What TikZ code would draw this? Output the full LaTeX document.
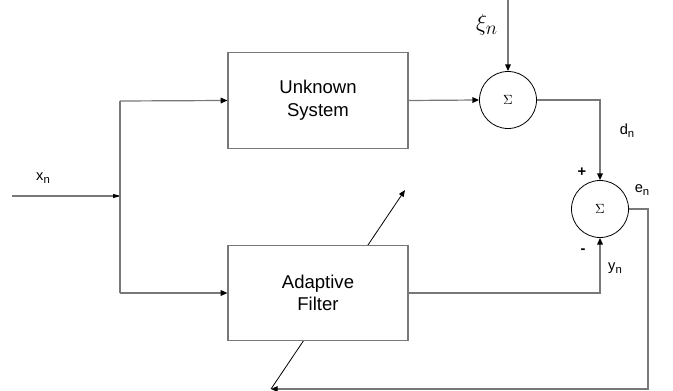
\documentclass[tikz,border=0pt]{standalone}
\usepackage{fontspec}
\setmainfont{Liberation Sans}
\usetikzlibrary{arrows.meta, calc}
\definecolor{wiregray}{RGB}{120,120,120}
\newcommand{\subn}{\raisebox{-2.2pt}{\fontsize{8.5}{9}\selectfont n}}
\tikzset{
  blk/.style     = {rectangle, draw=wiregray, fill=white, line width=0.9pt, minimum width=135pt, minimum height=71.5pt, align=center, font=\fontsize{13.9}{17}\selectfont},
  sumnode/.style = {circle, draw=black, fill=white, line width=0.6pt, minimum size=42.75pt, inner sep=0pt, font=\fontsize{10}{10}\selectfont},
  wire/.style    = {wiregray, line width=0.9pt},
  sig/.style     = {wire, -{Triangle[length=5pt, width=4.2pt, color=black]}},
  adj/.style     = {black, line width=0.6pt, -{Triangle[length=5pt, width=4pt]}},
  lbl/.style     = {inner sep=0pt, font=\fontsize{11}{12}\selectfont},
}
\begin{document}
\begin{tikzpicture}[x=0.75pt, y=-0.75pt]
\useasboundingbox (0,0) rectangle (673,391);

% free ends and corners
\coordinate (xin) at (12,196);
\coordinate (split) at (120,196);
\coordinate (splittop) at (120,101);
\coordinate (splitbot) at (120,293);
\coordinate (xitop) at (508,0);
\coordinate (fbcorner) at (648,389);
\coordinate (fbend) at (271,389);
\coordinate (adjtip) at (405,190);

% adaptation arrow (behind the filter box)
\draw[adj] (fbend) -- (adjtip);

% blocks
\node[blk] (unk) at (318,100.5) {Unknown\\System};
\node[blk] (adf) at (318,293) {Adaptive\\Filter};
\node[sumnode] (sum1) at (508,100) {$\Sigma$};
\node[sumnode] (sum2) at (600,209) {$\Sigma$};

% input and split
\draw[wire] (xin) -- (split);
\fill[black] (split) -- ++(-7,-2.2) -- ++(0,4.4) -- cycle;
\draw[wire] (splittop) -- (splitbot);
\draw[sig] (splittop) -- (unk.west);
\draw[sig] (splitbot) -- (adf.west);

% plant path
\draw[sig] (xitop) -- (sum1.north);
\draw[sig] (unk.east) -- (sum1.west);
\draw[sig] (sum1.east) -| (sum2.north);

% filter path
\draw[sig] (adf.east) -| (sum2.south);

% error feedback
\draw[sig] (sum2.east) -| (fbcorner) -- (fbend);

% labels
\node[lbl] (xlbl) at (43,178) {x\subn};
\node[inner sep=0pt, font=\fontsize{19}{20}\selectfont] (xilbl) at (487,25) {$\xi_n$};
\node[lbl] (dlbl) at (627,131) {d\subn};
\node[lbl] (elbl) at (642,190) {e\subn};
\node[lbl] (ylbl) at (615,268) {y\subn};
\node[lbl, font=\fontsize{11}{12}\bfseries] (plus) at (582,172) {+};
\node[lbl, font=\fontsize{11}{12}\bfseries] (minus) at (583,251) {-};
\end{tikzpicture}
\end{document}
